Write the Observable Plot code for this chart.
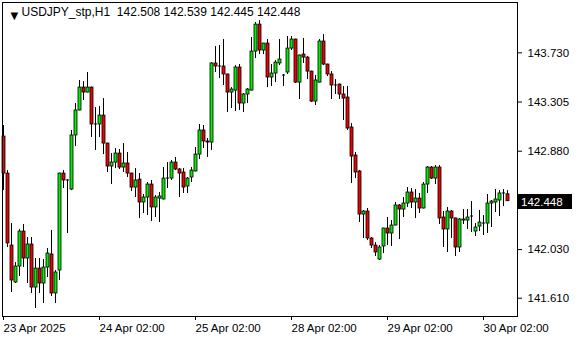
<!DOCTYPE html>
<html><head><meta charset="utf-8">
<script src="https://cdn.jsdelivr.net/npm/d3@7"></script>
<script src="https://cdn.jsdelivr.net/npm/@observablehq/plot@0.6"></script>
<style>html,body{margin:0;padding:0;background:#fff} svg{display:block}</style>
</head><body><div id="chart"></div>
<script>
const symbol = "USDJPY_stp,H1";
const open = [143.007,142.687,142.065,141.746,141.884,142.186,141.953,142.074,141.702,141.866,
141.737,141.875,141.988,141.651,141.849,142.687,142.627,142.549,143.016,143.232,
143.430,143.387,143.430,143.111,143.111,143.188,142.946,142.748,142.782,142.860,
142.739,142.774,142.687,142.566,142.635,142.437,142.480,142.592,142.394,142.471,
142.463,142.644,142.644,142.782,142.722,142.696,142.575,142.653,142.705,142.851,
143.059,142.964,142.955,143.638,143.612,143.612,143.543,143.387,143.404,143.603,
143.292,143.370,143.404,143.741,143.974,143.750,143.810,143.517,143.551,143.638,
143.534,143.560,143.767,143.845,143.473,143.715,143.689,143.568,143.309,143.473,
143.828,143.629,143.543,143.448,143.456,143.370,143.344,143.085,142.843,142.705,
142.333,142.359,142.126,142.065,141.944,142.057,142.212,142.169,142.238,142.411,
142.376,142.428,142.523,142.437,142.471,142.385,142.592,142.739,142.644,142.739,
142.307,142.204,142.359,142.299,142.048,142.281,142.281,142.316,142.186,142.229,
142.255,142.255,142.428,142.437,142.454,142.515,142.508];
const high = [143.102,142.713,142.255,141.918,142.204,142.247,142.134,142.134,141.953,141.953,
141.944,142.039,142.195,141.849,142.690,142.713,142.635,143.059,143.292,143.491,
143.482,143.560,143.435,143.257,143.266,143.335,142.950,142.860,142.903,142.895,
142.946,142.869,142.690,142.730,142.687,142.506,142.610,142.627,142.497,142.523,
142.739,142.782,142.800,142.826,142.730,142.730,142.653,142.739,142.912,143.111,
143.102,142.990,143.645,143.784,143.793,143.845,143.546,143.430,143.620,143.629,
143.378,143.422,143.862,143.992,144.009,143.812,143.845,143.629,143.663,143.845,
143.543,143.871,143.871,143.848,143.710,143.854,143.698,143.571,143.534,143.845,
143.888,143.632,143.568,143.499,143.460,143.439,143.439,143.119,142.869,142.713,
142.368,142.385,142.134,142.091,142.065,142.215,142.307,142.281,142.437,142.419,
142.480,142.566,142.558,142.549,142.515,142.610,142.748,142.748,142.756,142.756,
142.359,142.394,142.368,142.302,142.299,142.376,142.376,142.445,142.255,142.368,
142.324,142.506,142.454,142.549,142.540,142.549,142.539];
const low = [142.540,142.048,141.659,141.737,141.797,141.875,141.737,141.651,141.521,141.651,
141.564,141.789,141.625,141.564,141.763,142.558,142.169,142.540,142.921,143.229,
143.318,143.384,142.998,142.886,142.998,142.851,142.696,142.592,142.730,142.722,
142.696,142.653,142.532,142.480,142.299,142.342,142.324,142.273,142.307,142.264,
142.460,142.558,142.627,142.713,142.480,142.515,142.515,142.610,142.702,142.808,
142.903,142.826,142.886,143.560,143.508,143.448,143.214,143.249,143.223,143.232,
143.214,143.292,143.401,143.681,143.715,143.715,143.430,143.439,143.473,143.620,
143.439,143.543,143.750,143.465,143.327,143.638,143.499,143.301,143.275,143.470,
143.620,143.525,143.327,143.370,143.327,143.145,143.059,142.601,142.644,142.264,
142.126,142.108,142.039,141.970,141.936,141.996,142.065,142.057,142.235,142.117,
142.307,142.394,142.385,142.299,142.342,142.382,142.515,142.635,142.592,142.247,
142.048,142.005,142.126,141.970,142.005,142.247,142.204,142.178,142.143,142.186,
142.152,142.169,142.221,142.350,142.316,142.402,142.445];
const close = [142.687,142.083,141.763,141.884,142.186,141.953,142.074,141.702,141.866,141.737,
141.875,141.996,141.651,141.832,142.687,142.627,142.627,143.016,143.232,143.430,
143.387,143.430,143.111,143.111,143.188,142.946,142.748,142.782,142.860,142.739,
142.774,142.687,142.566,142.627,142.437,142.480,142.592,142.394,142.480,142.489,
142.644,142.644,142.782,142.722,142.687,142.566,142.644,142.713,142.851,143.059,
142.964,142.955,143.638,143.612,143.612,143.543,143.387,143.413,143.603,143.292,
143.370,143.413,143.741,143.974,143.750,143.810,143.517,143.551,143.646,143.672,
143.534,143.767,143.845,143.473,143.707,143.689,143.568,143.309,143.491,143.828,
143.629,143.543,143.448,143.448,143.370,143.335,143.076,142.834,142.696,142.333,
142.359,142.126,142.065,142.005,142.048,142.212,142.169,142.238,142.411,142.376,
142.428,142.523,142.437,142.471,142.385,142.592,142.739,142.644,142.739,142.299,
142.204,142.359,142.299,142.048,142.290,142.290,142.307,142.316,142.221,142.264,
142.255,142.428,142.445,142.463,142.515,142.515,142.448];
const timeTickIndex = [0, 24, 48, 72, 96, 120];
const timeTickLabels = ["23 Apr 2025","24 Apr 02:00","25 Apr 02:00","28 Apr 02:00","29 Apr 02:00","30 Apr 02:00"];
const priceTicks = [141.610, 142.030, 142.880, 143.305, 143.730];

const UP = "#00ee00", DOWN = "#ee0000";
const bars = open.map((o, i) => ({i, o, h: high[i], l: low[i], c: close[i]}));
const bodies = bars.filter(d => d.o !== d.c);
const dojis = bars.filter(d => d.o === d.c);
const last = bars[bars.length - 1];
const header = `${symbol}\u00a0\u00a0${last.o.toFixed(3)} ${last.h.toFixed(3)} ${last.l.toFixed(3)} ${last.c.toFixed(3)}`;

function priceLabel(index, scales, values, dims) {
  const y = Math.round(scales.y(last.c));
  const x0 = dims.width - dims.marginRight + 1;
  const g = d3.create("svg:g");
  g.append("rect").attr("x", x0).attr("y", y - 7).attr("width", 54).attr("height", 15).attr("fill", "black");
  g.append("text").attr("x", x0 + 3).attr("y", y + 1).attr("dy", "0.35em")
    .attr("text-anchor", "start").attr("fill", "white").attr("font-size", 11.5).text(last.c.toFixed(3));
  return g.node();
}

const chart = Plot.plot({
  width: 580, height: 340,
  marginLeft: 2, marginRight: 63, marginTop: 2, marginBottom: 24,
  style: {fontFamily: "Liberation Sans", fontSize: "11.5px", background: "white", color: "black"},
  x: {type: "linear", domain: [-0.25, 128.5]},
  y: {domain: [141.452, 144.165]},
  color: {type: "identity"},
  marks: [
    Plot.ruleX(bars, {x: "i", y1: "l", y2: "h", stroke: "black", strokeWidth: 1}),
    Plot.rect(bodies, {x1: d => d.i - 0.375, x2: d => d.i + 0.375, y1: "o", y2: "c", dx: 0.5,
      fill: d => d.c > d.o ? UP : DOWN, stroke: "black", strokeWidth: 0.8}),
    Plot.rect(dojis, {x1: d => d.i - 0.375, x2: d => d.i + 0.375, y1: "o", y2: "c", dx: 0.5,
      insetTop: -0.5, insetBottom: -0.5, fill: "black"}),
    Plot.frame({stroke: "black"}),
    Plot.axisY(priceTicks, {anchor: "right", tickSize: 4, tickPadding: 6, tickFormat: d => d.toFixed(3), label: null}),
    Plot.axisX(timeTickIndex, {anchor: "bottom", tickSize: 4, tickPadding: 3, textAnchor: "start",
      tickFormat: d => timeTickLabels[timeTickIndex.indexOf(d)], label: null}),
    Plot.text([header], {frameAnchor: "top-left", dx: 19, dy: 10, text: d => d, textAnchor: "start",
      lineAnchor: "middle", fill: "black", fontSize: 12}),
    Plot.text(["\u25BC"], {frameAnchor: "top-left", dx: 8, dy: 9, text: d => d, fontSize: 10,
      fontFamily: "DejaVu Sans", fill: "black"}),
    priceLabel
  ]
});
document.getElementById("chart").append(chart);
</script>
</body></html>
